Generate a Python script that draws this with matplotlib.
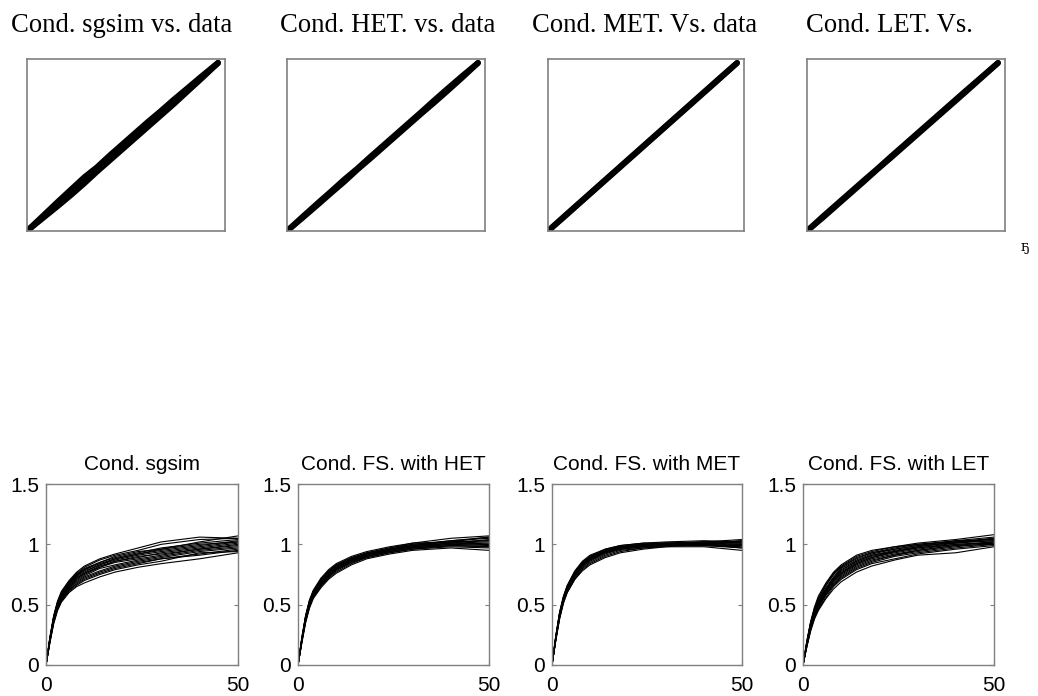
import numpy as np
import matplotlib.pyplot as plt

# ---- Q-Q data: normal-score quantiles of the data vs. conditional realizations ----
q_data = [-3.0, -2.5, -2.0, -1.6, -1.2, -0.8, -0.4, 0.0, 0.4, 0.8, 1.2, 1.6, 2.0, 2.5, 3.0]

qq_sgsim = [
    [-3.0, -2.46, -1.92, -1.50, -1.08, -0.72, -0.30, 0.10, 0.50, 0.90, 1.28, 1.68, 2.06, 2.54, 3.0],
    [-3.0, -2.54, -2.08, -1.70, -1.30, -0.88, -0.48, -0.08, 0.32, 0.72, 1.12, 1.52, 1.94, 2.46, 3.0],
    [-3.0, -2.50, -2.00, -1.58, -1.20, -0.82, -0.40, 0.02, 0.42, 0.80, 1.22, 1.60, 2.00, 2.50, 3.0],
]
qq_het = [
    [-3.0, -2.48, -1.97, -1.57, -1.16, -0.78, -0.37, 0.03, 0.43, 0.83, 1.23, 1.64, 2.04, 2.53, 3.0],
    [-3.0, -2.52, -2.03, -1.63, -1.24, -0.82, -0.43, -0.03, 0.37, 0.77, 1.17, 1.56, 1.96, 2.47, 3.0],
]
qq_met = [
    [-3.0, -2.49, -1.99, -1.59, -1.19, -0.79, -0.39, 0.01, 0.41, 0.81, 1.21, 1.61, 2.01, 2.51, 3.0],
    [-3.0, -2.51, -2.01, -1.61, -1.21, -0.81, -0.41, -0.01, 0.39, 0.79, 1.19, 1.59, 1.99, 2.49, 3.0],
]
qq_let = [
    [-3.0, -2.48, -1.98, -1.58, -1.18, -0.79, -0.38, 0.02, 0.42, 0.82, 1.22, 1.62, 2.02, 2.51, 3.0],
    [-3.0, -2.52, -2.02, -1.62, -1.22, -0.81, -0.42, -0.02, 0.38, 0.78, 1.18, 1.58, 1.98, 2.49, 3.0],
]

qq_titles = ["Cond. sgsim vs. data", "Cond. HET. vs. data",
             "Cond. MET. Vs. data", "Cond. LET. Vs."]

# ---- experimental variograms of the conditional realizations ----
lags = [0, 1, 2, 3, 4, 6, 8, 10, 14, 18, 24, 30, 40, 50]

vg_sgsim = [
    [0, .18, .34, .45, .52, .60, .65, .68, .73, .77, .81, .84, .88, .93],
    [0, .19, .35, .46, .53, .61, .66, .70, .75, .79, .83, .86, .93, .94],
    [0, .19, .36, .47, .54, .62, .68, .72, .77, .81, .85, .88, .92, .96],
    [0, .20, .37, .47, .55, .63, .69, .73, .78, .82, .86, .89, .94, .97],
    [0, .20, .37, .48, .55, .64, .70, .74, .80, .83, .87, .90, .95, .98],
    [0, .21, .38, .49, .56, .65, .71, .75, .81, .85, .88, .91, .96, 1.00],
    [0, .20, .38, .49, .57, .66, .72, .76, .82, .86, .89, .93, .97, 1.01],
    [0, .21, .39, .50, .57, .67, .73, .77, .83, .87, .91, .94, .98, 1.02],
    [0, .22, .39, .51, .58, .68, .74, .79, .84, .88, .92, .95, .99, 1.03],
    [0, .21, .40, .51, .59, .68, .75, .80, .85, .89, .93, .97, 1.01, 1.04],
    [0, .22, .40, .52, .60, .69, .76, .81, .87, .91, .95, 1.00, 1.04, 1.05],
    [0, .23, .41, .53, .61, .70, .77, .82, .88, .92, .97, 1.02, 1.06, 1.05],
    [0, .19, .36, .46, .53, .62, .67, .71, .76, .80, .84, .88, .91, .95],
    [0, .20, .38, .49, .56, .65, .72, .76, .81, .86, .90, .92, .96, .99],
    [0, .22, .40, .52, .59, .69, .75, .79, .85, .90, .94, .96, 1.00, 1.02],
    [0, .21, .39, .50, .58, .67, .74, .78, .83, .88, .92, .96, 1.02, 1.07],
]
vg_het = [
    [0, .18, .35, .47, .55, .64, .71, .76, .83, .88, .92, .95, .97, .95],
    [0, .19, .36, .48, .56, .65, .72, .77, .84, .89, .93, .96, .98, .97],
    [0, .19, .37, .49, .57, .66, .73, .78, .85, .89, .93, .96, .99, .98],
    [0, .20, .37, .49, .57, .67, .74, .79, .86, .90, .94, .97, .99, 1.00],
    [0, .20, .38, .50, .58, .67, .74, .80, .86, .90, .94, .97, 1.00, 1.01],
    [0, .20, .38, .50, .58, .68, .75, .80, .87, .91, .95, .98, 1.00, .99],
    [0, .21, .39, .51, .59, .69, .76, .81, .87, .91, .95, .98, 1.01, 1.02],
    [0, .21, .39, .51, .59, .69, .76, .81, .88, .92, .96, .99, 1.02, 1.03],
    [0, .21, .40, .52, .60, .70, .77, .82, .88, .92, .96, .99, 1.01, 1.04],
    [0, .22, .40, .52, .61, .70, .78, .83, .89, .93, .97, 1.00, 1.03, 1.05],
    [0, .22, .41, .53, .61, .71, .78, .83, .89, .93, .97, 1.01, 1.05, 1.07],
    [0, .23, .41, .54, .62, .72, .79, .84, .90, .94, .98, 1.01, 1.02, 1.06],
    [0, .20, .37, .49, .57, .66, .73, .79, .85, .90, .94, .97, .99, .98],
    [0, .21, .39, .51, .59, .69, .76, .81, .87, .92, .96, .98, 1.01, 1.00],
    [0, .22, .40, .53, .61, .71, .78, .82, .88, .92, .96, 1.00, 1.02, 1.03],
    [0, .20, .38, .50, .58, .68, .75, .80, .86, .91, .95, .99, 1.03, 1.06],
]
vg_met = [
    [0, .20, .38, .51, .60, .71, .79, .84, .90, .94, .97, .98, .98, .95],
    [0, .21, .39, .52, .61, .72, .80, .85, .91, .95, .97, .99, .99, .97],
    [0, .21, .40, .53, .62, .73, .81, .86, .92, .96, .98, .99, .99, .98],
    [0, .22, .40, .53, .62, .74, .82, .87, .93, .96, .98, .99, 1.00, .99],
    [0, .22, .41, .54, .63, .75, .83, .88, .94, .97, .99, 1.00, 1.00, 1.00],
    [0, .22, .41, .54, .63, .75, .83, .88, .94, .97, .99, 1.00, 1.01, 1.01],
    [0, .23, .42, .55, .64, .76, .84, .89, .95, .98, 1.00, 1.00, 1.00, 1.02],
    [0, .23, .42, .55, .64, .76, .84, .89, .95, .98, 1.00, 1.01, 1.01, 1.03],
    [0, .23, .43, .56, .65, .77, .85, .90, .95, .98, 1.00, 1.01, 1.02, 1.01],
    [0, .24, .43, .56, .65, .77, .85, .90, .96, .99, 1.01, 1.01, 1.02, 1.04],
    [0, .24, .44, .57, .66, .78, .86, .91, .96, .99, 1.01, 1.02, 1.03, 1.02],
    [0, .21, .39, .52, .60, .71, .78, .83, .89, .93, .96, .98, 1.00, 1.03],
    [0, .22, .41, .54, .63, .74, .82, .87, .93, .97, .99, 1.00, 1.01, 1.00],
    [0, .23, .42, .55, .64, .75, .83, .88, .94, .98, .99, 1.00, .99, .99],
    [0, .22, .41, .54, .62, .74, .82, .87, .93, .96, .98, 1.00, 1.02, 1.02],
    [0, .24, .43, .56, .65, .77, .84, .89, .95, .98, 1.00, 1.01, 1.00, .97],
]
vg_let = [
    [0, .15, .28, .38, .45, .55, .63, .69, .77, .82, .87, .91, .93, .98],
    [0, .15, .29, .39, .46, .56, .65, .71, .79, .84, .88, .92, .96, .99],
    [0, .16, .30, .40, .47, .58, .66, .72, .80, .85, .90, .93, .97, 1.00],
    [0, .16, .31, .41, .48, .59, .68, .74, .82, .87, .91, .94, .98, 1.01],
    [0, .17, .31, .41, .49, .60, .69, .75, .83, .88, .92, .95, .99, 1.02],
    [0, .17, .32, .42, .50, .61, .70, .76, .84, .89, .93, .96, 1.00, 1.02],
    [0, .17, .32, .43, .51, .62, .71, .77, .85, .90, .94, .97, 1.01, 1.03],
    [0, .18, .33, .44, .52, .63, .72, .78, .86, .91, .95, .98, 1.02, 1.04],
    [0, .18, .34, .45, .53, .64, .73, .80, .87, .92, .96, .99, 1.01, 1.05],
    [0, .19, .35, .46, .54, .66, .75, .81, .89, .93, .97, 1.00, 1.03, 1.06],
    [0, .19, .35, .47, .55, .67, .76, .82, .90, .94, .98, 1.01, 1.04, 1.08],
    [0, .20, .36, .48, .57, .68, .77, .83, .91, .95, .98, 1.00, 1.02, 1.03],
    [0, .16, .30, .40, .48, .58, .67, .73, .81, .86, .91, .95, .99, 1.00],
    [0, .18, .33, .44, .52, .63, .72, .79, .86, .91, .94, .97, 1.00, 1.01],
    [0, .19, .35, .46, .55, .66, .75, .81, .88, .93, .96, .99, 1.03, 1.04],
    [0, .17, .32, .42, .50, .61, .70, .76, .84, .89, .94, .98, 1.02, 1.05],
]

vg_titles = ["Cond. sgsim", "Cond. FS. with HET", "Cond. FS. with MET", "Cond. FS. with LET"]

W, H = 1038, 696
FRAME = "#808080"

fig = plt.figure(figsize=(W / 100, H / 100), dpi=100)


def px_axes(left, right, top, bottom):
    return fig.add_axes([left / W, (H - bottom) / H, (right - left) / W, (bottom - top) / H])


# top row: Q-Q plots
qq_sets = [qq_sgsim, qq_het, qq_met, qq_let]
qq_boxes = [(27, 225), (287, 485), (548, 744), (807, 1005)]
qq_title_x = [11, 280, 532, 806]
for sims, (l, r), title, tx in zip(qq_sets, qq_boxes, qq_titles, qq_title_x):
    ax = px_axes(l, r, 59, 231)
    for s in sims:
        ax.plot(q_data, s, color="black", lw=4.2, solid_capstyle="round",
                solid_joinstyle="round")
    ax.set_xlim(-3.0, 3.22)
    ax.set_ylim(-3.0, 3.14)
    ax.set_xticks([])
    ax.set_yticks([])
    for sp in ax.spines.values():
        sp.set_color(FRAME)
        sp.set_linewidth(1.2)
    fig.text(tx / W, (H - 32.5) / H, title, family="Liberation Serif",
             fontsize=19.2, ha="left", va="baseline")

fig.text(1025 / W, (H - 251) / H, "ҕ", family="DejaVu Serif", fontsize=10,
         ha="center", va="baseline")

# bottom row: variograms
vg_sets = [vg_sgsim, vg_het, vg_met, vg_let]
vg_boxes = [(46, 238), (298, 489), (552, 742), (803, 994)]
for curves, (l, r), title in zip(vg_sets, vg_boxes, vg_titles):
    ax = px_axes(l, r, 484, 665)
    for c in curves:
        ax.plot(lags, c, color="black", lw=0.8)
    ax.set_xlim(0, 50)
    ax.set_ylim(0, 1.5)
    ax.set_xticks([0, 50])
    ax.set_yticks([0, 0.5, 1, 1.5])
    ax.set_yticklabels(["0", "0.5", "1", "1.5"])
    ax.tick_params(direction="in", length=3, width=0.8, color=FRAME,
                   top=True, right=True, labelsize=15, pad=5)
    ax.tick_params(axis="x", pad=8)
    for lab in ax.get_xticklabels() + ax.get_yticklabels():
        lab.set_family("Liberation Sans")
    for sp in ax.spines.values():
        sp.set_color(FRAME)
        sp.set_linewidth(1.0)
    ax.set_title(title, family="Liberation Sans", fontsize=15, pad=10)

fig.savefig("out.png", dpi=100, facecolor="white")
